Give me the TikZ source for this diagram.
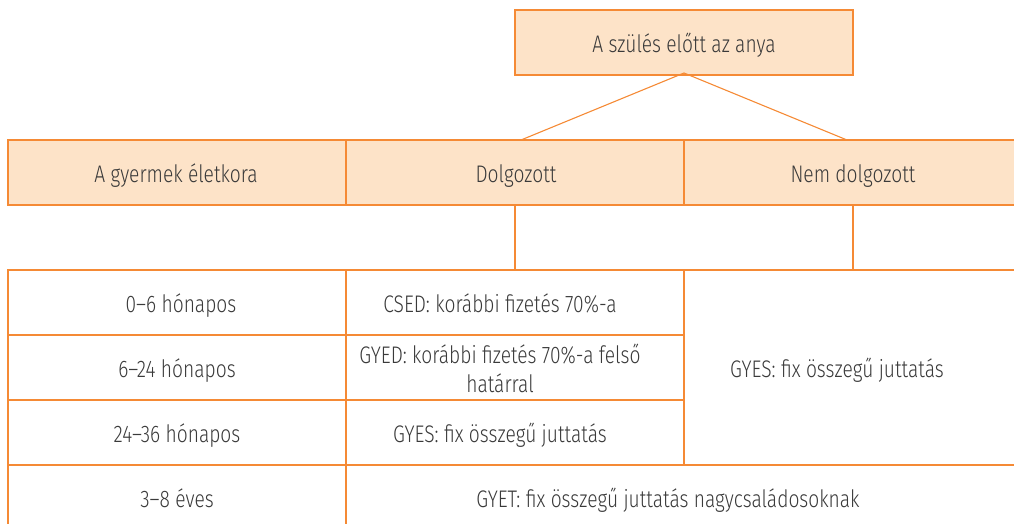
\documentclass[tikz,border=0pt]{standalone}
\usepackage{fontspec}
\setmainfont{Fira Sans Light}[FakeStretch=0.8]
\definecolor{org}{HTML}{F58A35}
\definecolor{peach}{HTML}{FDE3C8}
\definecolor{txt}{HTML}{3A3A3A}
\begin{document}
\begin{tikzpicture}[x=1pt,y=-1pt,
  cell/.style={draw=org,line width=1.1pt,minimum width=338pt,minimum height=65pt,inner sep=0pt,outer sep=0pt},
  head/.style={cell,fill=peach},
  lbl/.style={anchor=base,text=txt,font=\fontsize{24}{29}\selectfont,inner sep=0pt},
  conn/.style={draw=org,line width=1.1pt}]
\useasboundingbox (0,0) rectangle (1014,524);
\clip (0,0) rectangle (1014,524);
% top box
\node[head] (anya) at (684,42.5) {};
\node[lbl] (tanya) at (684,53) {A szülés előtt az anya};
% header row
\node[head] (h1) at (177,172.5) {};
\node[head] (h2) at (515,172.5) {};
\node[head] (h3) at (853,172.5) {};
\node[lbl] (th1) at (176,182) {A gyermek életkora};
\node[lbl] (th2) at (516,182) {Dolgozott};
\node[lbl] (th3) at (853,182) {Nem dolgozott};
% body
\node[cell] (r1c1) at (177,302.5) {};
\node[cell] (r2c1) at (177,367.5) {};
\node[cell] (r3c1) at (177,432.5) {};
\node[cell] (r4c1) at (177,497.5) {};
\node[cell] (r1c2) at (515,302.5) {};
\node[cell] (r2c2) at (515,367.5) {};
\node[cell] (r3c2) at (515,432.5) {};
\node[cell,minimum height=195pt] (r1c3) at (853,367.5) {};
\node[cell,minimum width=676pt] (r4c2) at (684,497.5) {};
\node[lbl] (t11) at (181,312) {0–6 hónapos};
\node[lbl] (t21) at (177,377) {6–24 hónapos};
\node[lbl] (t31) at (177,442) {24–36 hónapos};
\node[lbl] (t41) at (177,507) {3–8 éves};
\node[lbl] (t12) at (500,312) {CSED: korábbi fizetés 70\%-a};
\node[lbl] (t22) at (500,363) {GYED: korábbi fizetés 70\%-a felső};
\node[lbl] (t22b) at (500,392) {határral};
\node[lbl] (t32) at (500,442) {GYES: fix összegű juttatás};
\node[lbl] (t13) at (837,377) {GYES: fix összegű juttatás};
\node[lbl] (t42) at (668,507) {GYET: fix összegű juttatás nagycsaládosoknak};
% connectors
\draw[conn] ([yshift=2pt]anya.south) -- ([xshift=6pt]h2.north);
\draw[conn] ([yshift=2pt]anya.south) -- ([xshift=-6pt]h3.north);
\draw[conn] (h2.south) -- (r1c2.north);
\draw[conn] (h3.south) -- (r1c3.north);
\end{tikzpicture}
\end{document}
